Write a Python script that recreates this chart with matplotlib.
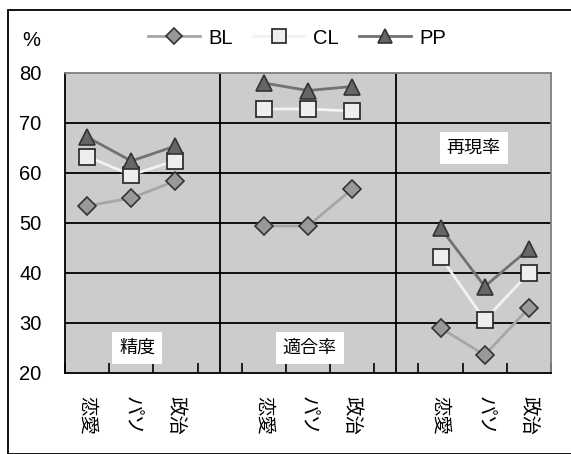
import matplotlib
matplotlib.use("Agg")
import matplotlib.pyplot as plt
import numpy as np
from matplotlib.patches import Rectangle

plt.rcParams['font.family'] = ['Liberation Sans', 'Noto Sans CJK JP', 'DejaVu Sans']

categories = ['恋愛', 'パソ', '政治']
groups = ['精度', '適合率', '再現率']
series_names = ['BL', 'CL', 'PP']
bl = [53.4, 55.0, 58.4, 49.4, 49.4, 56.8, 29.0, 23.6, 33.0]
cl = [63.3, 59.6, 62.5, 72.8, 72.8, 72.4, 43.2, 30.6, 40.0]
pp = [67.2, 62.4, 65.4, 78.0, 76.5, 77.3, 49.0, 37.3, 44.8]
yticks = [20, 30, 40, 50, 60, 70, 80]

W, H = 571, 454
fig = plt.figure(figsize=(W / 100, H / 100), dpi=100)
ax = fig.add_axes([65 / W, 1 - 373 / H, (551 - 65) / W, 300 / H])
ax.set_facecolor('#cccccc')

n_groups = len(groups)
n_cat = len(categories)
xs = []
for g in range(n_groups):
    for i in range(n_cat):
        xs.append(g * (n_cat + 1) + i)
total = n_groups * (n_cat + 1) - 1


def with_gaps(vals):
    out = np.full(total, np.nan)
    for x, v in zip(xs, vals):
        out[x] = v
    return out

xfull = np.arange(total)

# grid lines
for y in yticks[1:-1]:
    ax.axhline(y, color='black', lw=1.3, zorder=1)
for g in range(1, n_groups):
    ax.axvline(g * (n_cat + 1) - 1, color='black', lw=1.3, zorder=1)

styles = [
    dict(color='#a6a6a6', marker='D', markersize=9, markerfacecolor='#999999',
         markeredgecolor='#333333', lw=2),
    dict(color='#f2f2f2', marker='s', markersize=11.5, markerfacecolor='#eeeeee',
         markeredgecolor='#222222', lw=2),
    dict(color='#727272', marker='^', markersize=12, markerfacecolor='#666666',
         markeredgecolor='#333333', lw=2),
]
for vals, st, name in zip([bl, cl, pp], styles, series_names):
    ax.plot(xfull, with_gaps(vals), label=name, zorder=3, markeredgewidth=1.2, **st)

ax.set_xlim(-0.5, total - 0.5)
ax.set_ylim(20, 80)
ax.set_yticks(yticks)
ax.set_yticklabels([str(v) for v in yticks], fontsize=14.5)
ax.tick_params(axis='y', length=0, pad=17)
ax.set_xticks(np.arange(-0.5, total, 1.0))
ax.set_xticklabels([])
ax.tick_params(axis='x', direction='in', length=7, width=1.2, color='black')

for s in ['left', 'bottom']:
    ax.spines[s].set_color('black')
    ax.spines[s].set_linewidth(1.3)
for s in ['top', 'right']:
    ax.spines[s].set_color('#7f7f7f')
    ax.spines[s].set_linewidth(1.3)

trans = ax.get_xaxis_transform()
for k, x in enumerate(xs):
    ax.text(x, -0.075, categories[k % n_cat], rotation=-90, ha='center', va='top',
            fontsize=14, family=['Noto Sans CJK JP'], transform=trans, clip_on=False)

# group labels
box = dict(facecolor='white', edgecolor='none', pad=5)
ax.text(1.13, 25, groups[0], ha='center', va='center', fontsize=13,
        family=['Noto Sans CJK JP'], bbox=box, zorder=4)
ax.text(5.04, 25, groups[1], ha='center', va='center', fontsize=13,
        family=['Noto Sans CJK JP'], bbox=box, zorder=4)
ax.text(8.75, 65, groups[2], ha='center', va='center', fontsize=13,
        family=['Noto Sans CJK JP'], bbox=box, zorder=4)

fig.text(22 / W, 1 - 40 / H, '%', fontsize=14.5, ha='left', va='center')

handles, labels = ax.get_legend_handles_labels()
fig.legend(handles, labels, loc='center', bbox_to_anchor=(297 / W, 1 - 38 / H),
           ncol=3, frameon=False, fontsize=14.5, handlelength=2.6, columnspacing=1.0,
           handletextpad=0.4, markerscale=0.85)

# outer frame
fig.patches.append(Rectangle((8 / W, 0), 1.2, 1 - 10 / H, transform=fig.transFigure,
                             fill=False, edgecolor='black', lw=1.3))

fig.savefig('out.png', dpi=100, facecolor='white')
